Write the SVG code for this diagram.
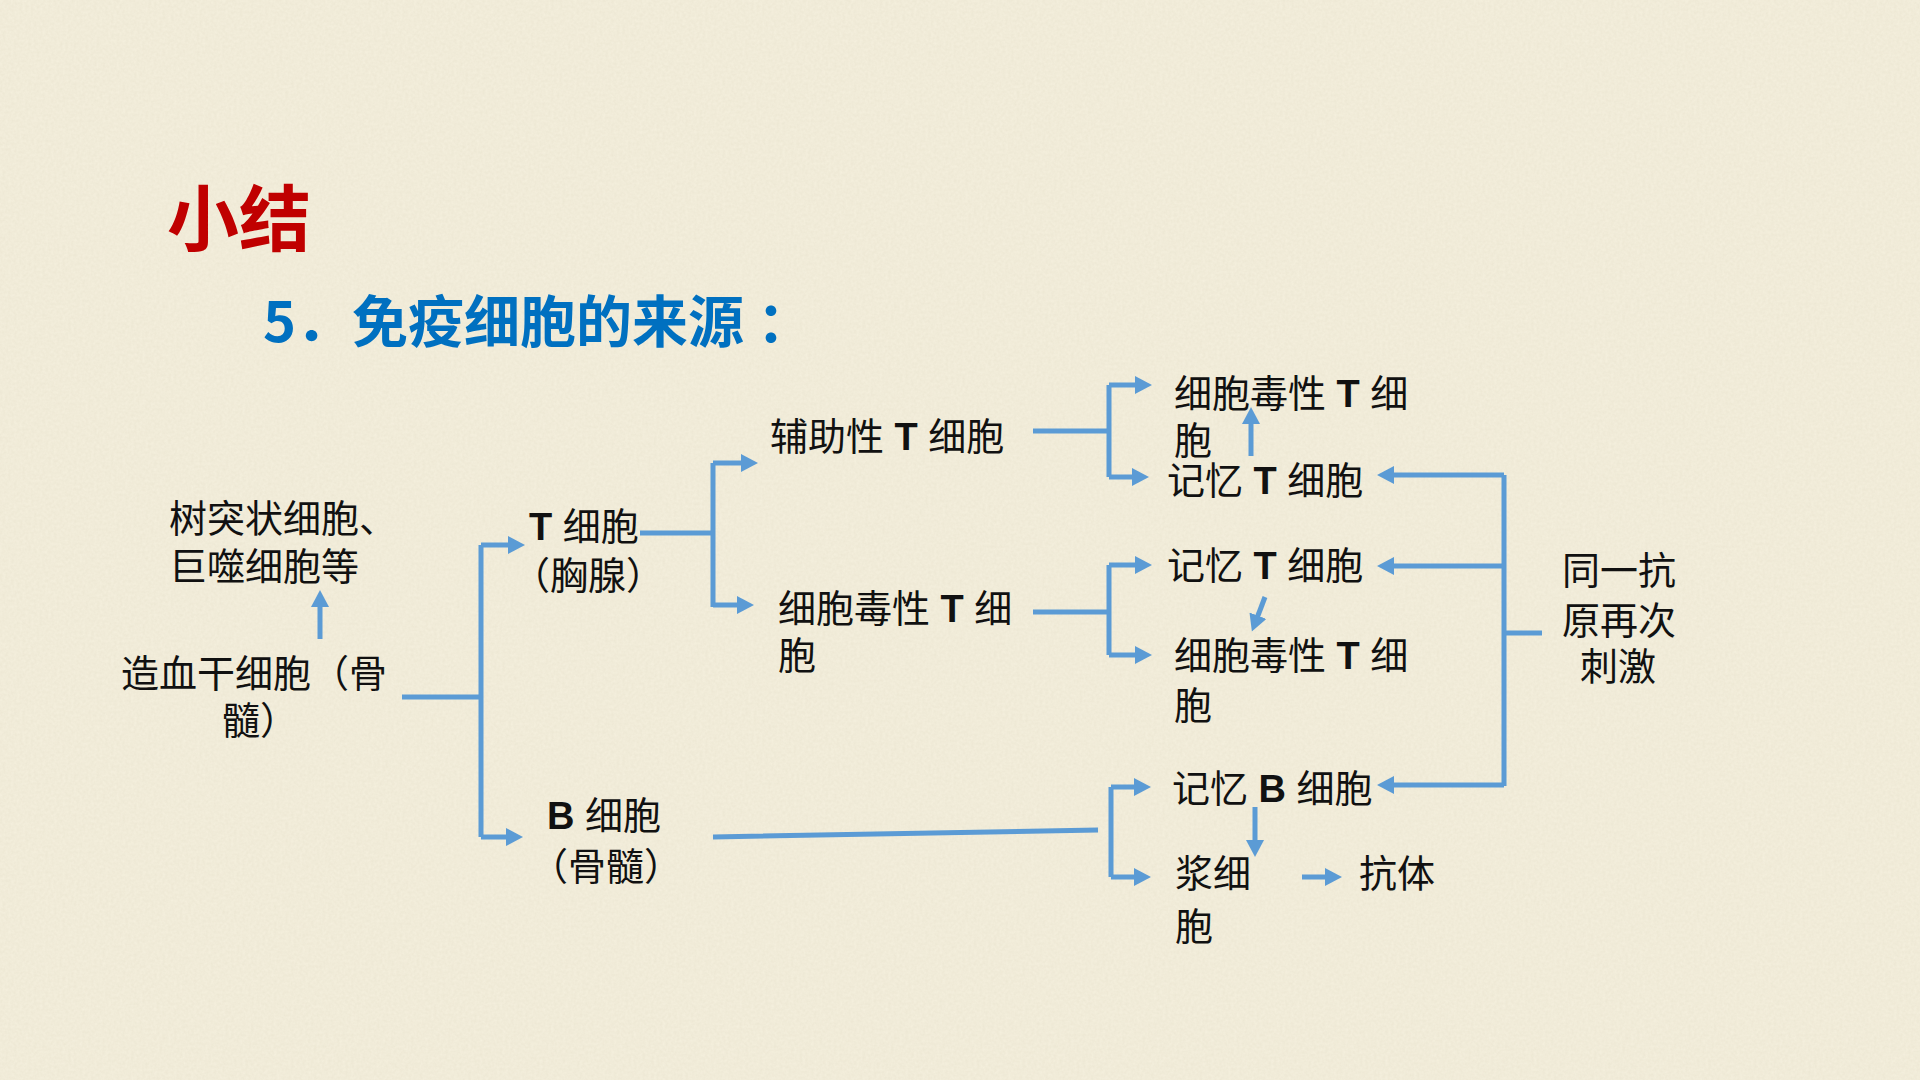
<svg xmlns="http://www.w3.org/2000/svg" width="1920" height="1080" viewBox="0 0 1920 1080">
<defs>
<filter id="paper" x="0" y="0" width="100%" height="100%">
<feTurbulence type="fractalNoise" baseFrequency="0.35" numOctaves="3" seed="4" result="n"/>
<feColorMatrix in="n" type="matrix" values="0 0 0 0 0.55  0 0 0 0 0.5  0 0 0 0 0.35  0 0 0 0.18 0"/>
</filter>
<marker id="ah" markerUnits="userSpaceOnUse" markerWidth="18" markerHeight="18" viewBox="0 0 18 18" refX="11" refY="9" orient="auto">
<path d="M0,0 L17,9 L0,18 Z" fill="#5B9BD5"/>
</marker>
<style>
.t{font-family:"Liberation Sans","Noto Sans CJK SC",sans-serif;font-size:38px;fill:#111;}
.b{font-weight:bold;}
.h{font-family:"Noto Sans CJK SC",sans-serif;font-weight:700;font-size:56px;fill:#0070C0;}
.c{fill:none;stroke:#5B9BD5;stroke-width:5;}
.a{marker-end:url(#ah);}
</style>
</defs>
<rect width="1920" height="1080" fill="#F5F0DE"/>
<rect width="1920" height="1080" filter="url(#paper)"/>

<g id="title">
<text x="167" y="245" style="font-family:'Noto Sans CJK SC',sans-serif;font-weight:700;font-size:72px;fill:#C00000">小结</text>
</g>
<g id="subtitle">
<text class="h" x="263" y="342">5．免疫细胞的来源<tspan dx="13">：</tspan></text>
</g>

<g id="connectors">
<path class="c a" d="M320,639 V596"/>
<path class="c" d="M402,697 H481 M481,545 V837"/>
<path class="c a" d="M481,545 H519"/>
<path class="c a" d="M481,837 H517"/>
<path class="c" d="M640,533 H713 M713,463 V607"/>
<path class="c a" d="M713,463 H752"/>
<path class="c a" d="M713,605 H748"/>
<path class="c" d="M1033,431 H1109 M1109,385 V477"/>
<path class="c a" d="M1109,385 H1146"/>
<path class="c a" d="M1109,477 H1143"/>
<path class="c" d="M1033,612 H1109 M1109,565 V655"/>
<path class="c a" d="M1109,565 H1146"/>
<path class="c a" d="M1109,655 H1146"/>
<path class="c a" d="M1251,456 V413"/>
<path class="c a" d="M1265,597 L1254,626"/>
<path class="c" d="M1504,475 V786 M1504,633 H1542"/>
<path class="c a" d="M1504,475 H1383"/>
<path class="c a" d="M1504,566 H1383"/>
<path class="c a" d="M1504,785 H1383"/>
<path class="c" d="M713,837 L1098,830 M1111,787 V877"/>
<path class="c a" d="M1111,787 H1145"/>
<path class="c a" d="M1111,877 H1145"/>
<path class="c a" d="M1255,807 V851"/>
<path class="c a" d="M1302,877 H1336"/>
</g>

<g id="n-dc"><text class="t" x="169" y="532">树突状细胞、</text><text class="t" x="169" y="580">巨噬细胞等</text></g>
<g id="n-hsc"><text class="t" x="121" y="687">造血干细胞（骨</text><text class="t" x="222" y="734">髓）</text></g>
<g id="n-t"><text class="t" x="529" y="540"><tspan class="b">T</tspan> 细胞</text><text class="t" x="512" y="589">（胸腺）</text></g>
<g id="n-b"><text class="t" x="547" y="829"><tspan class="b">B</tspan> 细胞</text><text class="t" x="530" y="880">（骨髓）</text></g>
<g id="n-th"><text class="t" x="770" y="450">辅助性 <tspan class="b">T</tspan> 细胞</text></g>
<g id="n-tc"><text class="t" x="778" y="622">细胞毒性 <tspan class="b">T</tspan> 细</text><text class="t" x="778" y="669">胞</text></g>
<g id="n-tc1"><text class="t" x="1174" y="407">细胞毒性 <tspan class="b">T</tspan> 细</text><text class="t" x="1174" y="454">胞</text></g>
<g id="n-mt1"><text class="t" x="1167" y="494">记忆 <tspan class="b">T</tspan> 细胞</text></g>
<g id="n-mt2"><text class="t" x="1167" y="579">记忆 <tspan class="b">T</tspan> 细胞</text></g>
<g id="n-tc2"><text class="t" x="1174" y="669">细胞毒性 <tspan class="b">T</tspan> 细</text><text class="t" x="1174" y="719">胞</text></g>
<g id="n-mb"><text class="t" x="1172" y="802">记忆 <tspan class="b">B</tspan> 细胞</text></g>
<g id="n-pc"><text class="t" x="1175" y="887">浆细</text><text class="t" x="1175" y="940">胞</text></g>
<g id="n-ab"><text class="t" x="1359" y="887">抗体</text></g>
<g id="n-ag"><text class="t" x="1562" y="584">同一抗</text><text class="t" x="1562" y="634">原再次</text><text class="t" x="1580" y="680">刺激</text></g>
</svg>
